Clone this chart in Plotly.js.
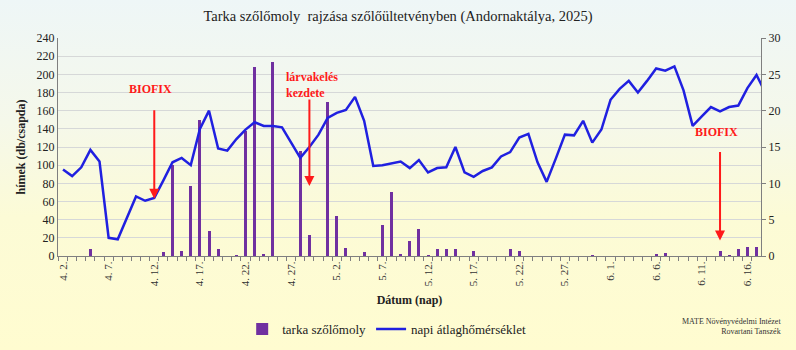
<!DOCTYPE html>
<html>
<head>
<meta charset="utf-8">
<script src="https://cdn.plot.ly/plotly-3.0.1.min.js"></script>
<style>
  html, body { margin: 0; padding: 0; }
  #chart { width: 796px; height: 350px;
    background: linear-gradient(to bottom, #eef6f7 0%, #f5f8ea 35%, #fcfbd6 62%, #fffcd0 100%); }
</style>
</head>
<body>
<div id="chart"></div>
<script>
// Days of observation (2025)
const dates = [
  '2025-04-02','2025-04-03','2025-04-04','2025-04-05','2025-04-06','2025-04-07','2025-04-08','2025-04-09','2025-04-10','2025-04-11',
  '2025-04-12','2025-04-13','2025-04-14','2025-04-15','2025-04-16','2025-04-17','2025-04-18','2025-04-19','2025-04-20','2025-04-21',
  '2025-04-22','2025-04-23','2025-04-24','2025-04-25','2025-04-26','2025-04-27','2025-04-28','2025-04-29','2025-04-30',
  '2025-05-01','2025-05-02','2025-05-03','2025-05-04','2025-05-05','2025-05-06','2025-05-07','2025-05-08','2025-05-09','2025-05-10',
  '2025-05-11','2025-05-12','2025-05-13','2025-05-14','2025-05-15','2025-05-16','2025-05-17','2025-05-18','2025-05-19','2025-05-20',
  '2025-05-21','2025-05-22','2025-05-23','2025-05-24','2025-05-25','2025-05-26','2025-05-27','2025-05-28','2025-05-29','2025-05-30','2025-05-31',
  '2025-06-01','2025-06-02','2025-06-03','2025-06-04','2025-06-05','2025-06-06','2025-06-07','2025-06-08','2025-06-09','2025-06-10',
  '2025-06-11','2025-06-12','2025-06-13','2025-06-14','2025-06-15','2025-06-16','2025-06-17','2025-06-18'
];

// Male moths caught (db/csapda)
const moths = [
  0, 0, 0, 8, 0, 0, 0, 0, 0, 0,
  0, 4, 100, 6, 77, 150, 27, 8, 0, 1,
  138, 208, 2, 214, 0, 0, 116, 23, 0,
  170, 44, 9, 0, 4, 0, 34, 71, 2, 16,
  30, 1, 8, 8, 8, 0, 5, 0, 0, 0,
  8, 5, 0, 0, 0, 0, 0, 0, 0, 1, 0,
  0, 0, 0, 0, 0, 2, 3, 0, 0, 0,
  0, 0, 5, 1, 8, 10, 10, 0
];

// Daily mean temperature (°C)
const temps = [
  11.9, 11.0, 12.2, 14.6, 13.0, 2.5, 2.3, 5.3, 8.2, 7.6,
  8.0, 10.4, 12.9, 13.5, 12.5, 17.5, 20.0, 14.8, 14.5, 16.1,
  17.4, 18.4, 17.9, 17.9, 17.7, 15.6, 13.5, 15.0, 16.7,
  19.0, 19.7, 20.1, 21.9, 18.6, 12.4, 12.5, 12.7, 13.0, 12.1,
  13.2, 11.5, 12.1, 12.2, 15.0, 11.5, 10.9, 11.7, 12.2, 13.7,
  14.3, 16.3, 16.8, 12.9, 10.2, 13.4, 16.7, 16.6, 18.6, 15.6, 17.4,
  21.5, 23.0, 24.1, 22.5, 24.1, 25.8, 25.5, 26.1, 22.8, 17.9,
  19.2, 20.5, 19.9, 20.5, 20.7, 23.1, 24.9, 22.4
];

const tickDates = ['2025-04-02','2025-04-07','2025-04-12','2025-04-17','2025-04-22','2025-04-27',
  '2025-05-02','2025-05-07','2025-05-12','2025-05-17','2025-05-22','2025-05-27',
  '2025-06-01','2025-06-06','2025-06-11','2025-06-16'];
const tickLabels = ['4. 2.','4. 7.','4. 12.','4. 17.','4. 22.','4. 27.',
  '5. 2.','5. 7.','5. 12.','5. 17.','5. 22.','5. 27.',
  '6. 1.','6. 6.','6. 11.','6. 16.'];

// Event markers
const eventDates = ['2025-04-12', '2025-04-29', '2025-06-13'];
const eventLabels = ['BIOFIX', 'lárvakelés<br>kezdete', 'BIOFIX'];

const FONT = 'Liberation Serif, Times New Roman, serif';
const DAY = 86400000;

const traces = [
  {
    type: 'bar', name: 'tarka szőlőmoly', x: dates, y: moths,
    width: 0.33 * DAY, marker: { color: '#7030a0' }, yaxis: 'y'
  },
  {
    type: 'scatter', mode: 'lines', name: 'napi átlaghőmérséklet', x: dates, y: temps,
    line: { color: '#2020e0', width: 2.5 }, yaxis: 'y2'
  }
];

const annotations = [
  // arrows
  { x: eventDates[0], y: 63, xref: 'x', yref: 'y', text: '', showarrow: true, ax: 0, ay: -90,
    arrowcolor: '#ff1a1a', arrowwidth: 2, arrowhead: 2, arrowsize: 1 },
  { x: eventDates[1], y: 77, xref: 'x', yref: 'y', text: '', showarrow: true, ax: 0, ay: -88,
    arrowcolor: '#ff1a1a', arrowwidth: 2, arrowhead: 2, arrowsize: 1 },
  { x: eventDates[2], y: 17, xref: 'x', yref: 'y', text: '', showarrow: true, ax: 0, ay: -90,
    arrowcolor: '#ff1a1a', arrowwidth: 2, arrowhead: 2, arrowsize: 1 },
  // labels
  { x: '2025-04-11 14:00', y: 184, xref: 'x', yref: 'y', text: '<b>' + eventLabels[0] + '</b>', showarrow: false,
    font: { family: FONT, size: 12, color: '#ff1a1a' } },
  { x: '2025-04-26 04:00', y: 188, xref: 'x', yref: 'y', text: '<b>' + eventLabels[1] + '</b>', showarrow: false,
    xanchor: 'left', align: 'left', font: { family: FONT, size: 12, color: '#ff1a1a' } },
  { x: '2025-06-12 14:00', y: 137, xref: 'x', yref: 'y', text: '<b>' + eventLabels[2] + '</b>', showarrow: false,
    font: { family: FONT, size: 12, color: '#ff1a1a' } },
  // credit
  { x: 1.031, y: -0.325, xref: 'paper', yref: 'paper', xanchor: 'right', yanchor: 'middle', align: 'right',
    text: 'MATE Növényvédelmi Intézet<br>Rovartani Tanszék', showarrow: false,
    font: { family: FONT, size: 8, color: '#333' } }
];

const layout = {
  width: 796, height: 350,
  margin: { l: 58, r: 35, t: 38, b: 94, autoexpand: false },
  paper_bgcolor: 'rgba(0,0,0,0)', plot_bgcolor: 'rgba(0,0,0,0)',
  font: { family: FONT, size: 12, color: '#222' },
  title: { text: 'Tarka szőlőmoly  rajzása szőlőültetvényben (Andornaktálya, 2025)',
    font: { family: FONT, size: 14.5, color: '#222' }, x: 0.5, xanchor: 'center', y: 0.955, yanchor: 'middle' },
  showlegend: true,
  legend: { orientation: 'h', x: 0.262, xanchor: 'left', y: -0.335, yanchor: 'middle',
    font: { family: FONT, size: 13, color: '#222' }, bgcolor: 'rgba(0,0,0,0)', itemwidth: 30, tracegroupgap: 0 },
  xaxis: {
    type: 'date', range: ['2025-04-01 10:48', '2025-06-17 11:45'], automargin: false,
    tickmode: 'array', tickvals: tickDates, ticktext: tickLabels, tickangle: -90,
    tickfont: { family: FONT, size: 11, color: '#333' },
    ticks: '', showgrid: false, zeroline: false,
    showline: true, linecolor: '#7f7f7f', linewidth: 1,
    minor: { ticks: 'outside', ticklen: 4, tickcolor: '#7f7f7f', dtick: DAY, tick0: '2025-04-01 12:00', showgrid: false },
    title: { text: '<b>Dátum (nap)</b>', font: { family: FONT, size: 12, color: '#222' }, standoff: 10 }
  },
  yaxis: {
    range: [0, 240], dtick: 20, showgrid: true, gridcolor: '#d6d8d8', gridwidth: 1, automargin: false,
    showline: true, linecolor: '#7f7f7f', linewidth: 1, zeroline: false, ticks: '',
    tickfont: { family: FONT, size: 12, color: '#222' },
    title: { text: '<b>hímek (db/csapda)</b>', font: { family: FONT, size: 12, color: '#222' }, standoff: 8 }
  },
  yaxis2: {
    range: [0, 30], dtick: 5, overlaying: 'y', side: 'right', showgrid: false, zeroline: false, automargin: false,
    showline: true, linecolor: '#7f7f7f', linewidth: 1, ticks: 'outside', ticklen: 4, tickcolor: '#7f7f7f',
    tickfont: { family: FONT, size: 12, color: '#222' }
  },
  annotations: annotations,
  bargap: 0
};

Plotly.newPlot('chart', traces, layout, { displayModeBar: false, staticPlot: true });
</script>
</body>
</html>
